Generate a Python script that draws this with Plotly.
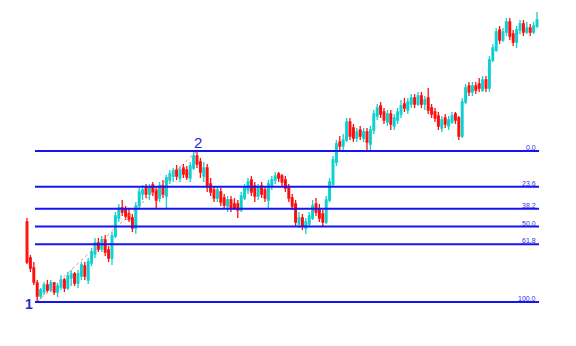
import plotly.graph_objects as go

opens = [380,344,334,319,306,310,317,312,319,310,315,322,314,324,328,319,326,336,322,339,
         348,359,353,362,352,344,366,384,394,392,388,384,374,396,408,414,408,417,412,404,
         416,406,422,426,432,424,434,432,424,434,446,440,426,434,418,412,404,410,404,396,
         402,398,398,392,404,412,422,416,406,416,412,402,416,422,428,426,422,414,404,398,
         378,384,374,378,384,398,392,388,380,402,418,440,460,456,462,480,474,464,472,464,
         470,458,472,486,496,490,480,488,476,482,488,498,492,498,504,498,506,498,504,494,
         490,486,474,484,476,480,488,484,466,500,516,510,516,518,512,522,514,542,552,572,
         562,570,580,568,560,572,578,570,574,570,576]
highs = [384,347,340,322,314,320,322,322,320,319,327,324,330,332,330,332,340,340,344,354,
         364,364,366,367,356,370,390,398,402,396,394,388,400,414,417,418,418,420,416,420,
         422,427,432,434,437,436,438,436,440,450,451,444,440,438,424,416,416,414,408,406,
         406,404,402,410,418,424,426,420,418,420,416,422,426,430,430,428,426,418,408,402,
         390,388,384,390,402,404,398,392,406,424,446,462,466,468,484,484,478,474,476,474,
         474,476,492,498,500,494,492,492,488,494,502,504,504,508,508,510,510,506,514,498,
         494,490,486,488,486,490,490,486,504,518,520,520,520,524,526,526,546,558,574,576,
         574,584,584,572,576,582,582,580,578,580,590]
lows = [338,330,317,300,303,307,309,310,307,305,312,310,312,316,316,314,322,322,318,336,
        344,350,350,346,340,337,364,380,386,382,380,370,368,392,402,404,402,406,394,400,
        404,394,418,420,422,420,424,422,420,432,434,424,420,410,406,400,400,396,394,390,
        390,392,384,390,402,408,406,400,402,404,400,394,412,418,420,416,410,400,392,376,
        374,372,368,376,382,386,380,376,378,400,416,436,452,450,460,462,460,460,462,460,
        452,452,468,482,484,478,476,472,472,478,484,490,488,494,494,496,494,492,488,484,
        480,472,470,474,472,478,478,462,464,498,506,506,508,510,510,510,510,540,550,558,
        560,566,562,556,554,568,566,568,566,568,574]
closes = [340,334,320,306,312,317,312,319,310,316,322,314,326,328,319,328,337,326,340,350,
          359,353,362,350,344,366,386,394,390,386,383,374,396,410,412,408,415,410,402,416,
          408,424,428,431,426,432,428,425,436,446,438,430,434,416,410,404,412,400,397,402,
          394,394,392,406,414,420,410,406,414,408,404,418,422,426,424,420,414,404,396,380,
          384,376,380,386,396,390,384,380,402,420,442,458,456,462,480,466,464,470,466,470,
          460,472,488,494,488,482,488,478,484,490,496,494,500,504,498,506,498,502,492,488,
          484,476,482,478,482,486,482,466,500,514,510,516,512,514,522,514,542,554,570,562,
          570,580,566,560,572,578,570,574,570,576,582]

fib_levels = [0.0, 23.6, 38.2, 50.0, 61.8, 100.0]
fib_labels = ["0.0", "23.6", "38.2", "50.0", "61.8", "100.0"]
swing_labels = ["1", "2"]

idx = list(range(len(closes)))
low_idx = 3
high_idx = 50
swing_low = lows[low_idx]
swing_high = highs[high_idx]

fig = go.Figure()
fig.add_trace(go.Candlestick(
    x=idx, open=opens, high=highs, low=lows, close=closes,
    increasing=dict(line=dict(color="#10D0D0", width=1.3), fillcolor="#00CED1"),
    decreasing=dict(line=dict(color="#FF1010", width=1.3), fillcolor="#FF0000"),
    whiskerwidth=0, showlegend=False, hoverinfo="skip",
))

# dashed trend line from swing low to swing high
fig.add_trace(go.Scatter(
    x=[low_idx, high_idx], y=[swing_low, swing_high], mode="lines",
    line=dict(color="#FF8080", width=1, dash="dot"), showlegend=False, hoverinfo="skip",
))

x0 = low_idx - 0.65
x1 = len(closes) - 1 + 0.6
rng = swing_high - swing_low
for lvl, lab in zip(fib_levels, fib_labels):
    yv = swing_high - rng * lvl / 100.0
    fig.add_shape(type="line", xref="x", yref="y", x0=x0, x1=x1, y0=yv, y1=yv,
                  line=dict(color="#1515F0", width=2))
    fig.add_annotation(x=x1, y=yv, xref="x", yref="y", text=lab, showarrow=False,
                       xanchor="right", yanchor="bottom", yshift=-2, xshift=-1,
                       font=dict(family="Liberation Sans, Arial", size=7, color="#3030E0"))

fig.add_annotation(x=low_idx, y=swing_low, xref="x", yref="y", text="<b>" + swing_labels[0] + "</b>",
                   showarrow=False, xshift=-8, yshift=-2,
                   font=dict(family="Liberation Sans, Arial", size=14, color="#2828D8"))
fig.add_annotation(x=high_idx, y=swing_high, xref="x", yref="y", text=swing_labels[1],
                   showarrow=False, xshift=1, yshift=9,
                   font=dict(family="Liberation Sans, Arial", size=15, color="#2828D8"))

n_px_per = 3.4
fig.update_layout(
    width=576, height=346, margin=dict(l=0, r=0, t=0, b=0),
    paper_bgcolor="white", plot_bgcolor="white", showlegend=False,
    xaxis=dict(visible=False, range=[-27 / n_px_per, (576 - 27) / n_px_per],
               rangeslider=dict(visible=False), fixedrange=True),
    yaxis=dict(visible=False, range=[256, 602], fixedrange=True),
)
fig.write_html("out.html")
